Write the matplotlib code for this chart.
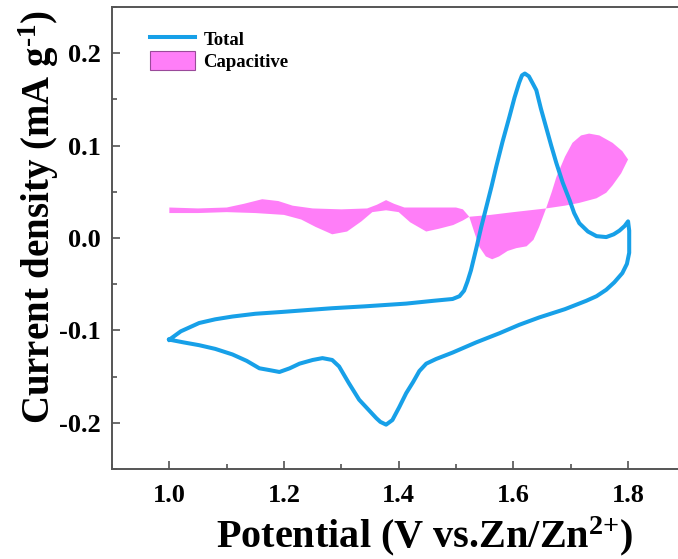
import numpy as np
import matplotlib
matplotlib.use("Agg")
import matplotlib.pyplot as plt
from matplotlib.patches import Patch
from matplotlib.ticker import MultipleLocator, FormatStrFormatter

# Total CV loop (anodic sweep then cathodic sweep)
total_v = [1.000, 1.020, 1.052, 1.080, 1.110, 1.150, 1.197, 1.240, 1.284, 1.340,
           1.413, 1.460, 1.494, 1.506, 1.514, 1.520, 1.526, 1.535, 1.544, 1.553,
           1.562, 1.570, 1.581, 1.593, 1.602, 1.610, 1.615, 1.620, 1.627, 1.634,
           1.640, 1.648, 1.657, 1.666, 1.675, 1.686, 1.698, 1.706, 1.715, 1.730,
           1.745, 1.762, 1.775, 1.785, 1.794, 1.800,
           1.802, 1.802, 1.798, 1.790, 1.776, 1.762, 1.745, 1.727, 1.690, 1.645,
           1.610, 1.576, 1.535, 1.494, 1.465, 1.448, 1.436, 1.425, 1.413, 1.401,
           1.389, 1.378, 1.368, 1.361, 1.346, 1.331, 1.313, 1.296, 1.284, 1.267,
           1.250, 1.227, 1.210, 1.192, 1.175, 1.157, 1.135, 1.110, 1.080, 1.052,
           1.025, 1.000]
total_i = [-0.110, -0.101, -0.092, -0.088, -0.085, -0.082, -0.080, -0.078, -0.076, -0.074,
           -0.071, -0.068, -0.066, -0.063, -0.057, -0.047, -0.035, -0.012, 0.012, 0.034,
           0.056, 0.077, 0.104, 0.131, 0.152, 0.168, 0.176, 0.178, 0.175, 0.167,
           0.160, 0.140, 0.120, 0.100, 0.081, 0.060, 0.041, 0.027, 0.016, 0.007,
           0.002, 0.001, 0.004, 0.008, 0.013, 0.018,
           0.008, -0.016, -0.028, -0.038, -0.048, -0.056, -0.063, -0.068, -0.077, -0.086,
           -0.094, -0.103, -0.113, -0.124, -0.131, -0.136, -0.144, -0.156, -0.168, -0.183,
           -0.197, -0.202, -0.199, -0.195, -0.185, -0.175, -0.157, -0.139, -0.132, -0.130,
           -0.132, -0.136, -0.141, -0.145, -0.143, -0.141, -0.133, -0.126, -0.120, -0.116,
           -0.113, -0.110]

# capacitive contribution, two boundaries of the shaded band
cap_a_v = [1.000, 1.050, 1.100, 1.130, 1.162, 1.190, 1.215, 1.250, 1.300, 1.345,
           1.362, 1.378, 1.392, 1.410, 1.460, 1.500, 1.512, 1.523, 1.532, 1.541,
           1.552, 1.563, 1.575, 1.590, 1.605, 1.623, 1.635, 1.645, 1.657, 1.667,
           1.675, 1.690, 1.703, 1.718, 1.732, 1.750, 1.773, 1.790, 1.800]
cap_a_i = [0.033, 0.032, 0.033, 0.037, 0.042, 0.040, 0.035, 0.032, 0.031, 0.032,
           0.036, 0.041, 0.037, 0.033, 0.033, 0.033, 0.031, 0.023, 0.006, -0.010,
           -0.020, -0.023, -0.020, -0.014, -0.011, -0.009, -0.002, 0.012, 0.032, 0.050,
           0.066, 0.088, 0.103, 0.111, 0.113, 0.111, 0.103, 0.094, 0.085]
cap_b_v = [1.000, 1.050, 1.100, 1.150, 1.200, 1.230, 1.255, 1.284, 1.310, 1.335,
           1.354, 1.378, 1.400, 1.420, 1.448, 1.470, 1.495, 1.512, 1.523, 1.560,
           1.600, 1.657, 1.690, 1.715, 1.745, 1.762, 1.773, 1.788, 1.800]
cap_b_i = [0.027, 0.027, 0.028, 0.027, 0.025, 0.020, 0.012, 0.004, 0.007, 0.018,
           0.028, 0.030, 0.028, 0.017, 0.007, 0.010, 0.014, 0.019, 0.023, 0.025,
           0.028, 0.032, 0.035, 0.038, 0.043, 0.049, 0.057, 0.070, 0.085]

blue = "#17A0E8"
pink = "#FF7EF8"

plt.rcParams["font.family"] = ["Liberation Serif", "DejaVu Serif"]
plt.rcParams["font.weight"] = "bold"
plt.rcParams["mathtext.fontset"] = "custom"
plt.rcParams["mathtext.rm"] = "Liberation Serif:bold"
plt.rcParams["mathtext.it"] = "Liberation Serif:bold"
plt.rcParams["mathtext.bf"] = "Liberation Serif:bold"
plt.rcParams["axes.unicode_minus"] = False

fig = plt.figure(figsize=(6.78, 5.59), dpi=100)
ax = fig.add_axes([112 / 678, 1 - 469 / 559, 573.4 / 678, 462 / 559])

poly_v = np.concatenate([cap_a_v, cap_b_v[::-1]])
poly_i = np.concatenate([cap_a_i, cap_b_i[::-1]])
ax.fill(poly_v, poly_i, facecolor=pink, edgecolor="none", zorder=1)
ax.plot(total_v, total_i, color=blue, lw=2.9, solid_joinstyle="round", zorder=2)

ax.set_xlim(0.9, 1.9)
ax.set_ylim(-0.25, 0.25)
ax.xaxis.set_major_locator(MultipleLocator(0.2))
ax.xaxis.set_minor_locator(MultipleLocator(0.1))
ax.yaxis.set_major_locator(MultipleLocator(0.1))
ax.yaxis.set_minor_locator(MultipleLocator(0.05))
ax.xaxis.set_major_formatter(FormatStrFormatter("%.1f"))
ax.yaxis.set_major_formatter(FormatStrFormatter("%.1f"))

ax.tick_params(which="both", direction="in", top=False, right=False, color="#444444")
ax.tick_params(which="major", length=6, width=1.1, labelsize=19)
ax.tick_params(which="minor", length=3.5, width=1.1)
ax.tick_params(axis="x", which="major", pad=11)
ax.tick_params(axis="y", which="major", pad=8)
for lab in ax.get_xticklabels() + ax.get_yticklabels():
    lab.set_fontweight("bold")

for s in ax.spines.values():
    s.set_color("#555555")
    s.set_linewidth(1.4)

ax.set_xlabel(r"Potential (V vs.Zn/Zn$^{2\text{+}}$)", fontsize=29, fontweight="bold",
              labelpad=5)
ax.set_ylabel(r"Current density (mA g$^{\text{-}1}$)", fontsize=28, fontweight="bold",
              labelpad=-1)
ax.xaxis.label.set_x(0.546)
ax.yaxis.label.set_y(0.545)

handles = [plt.Line2D([], [], color=blue, lw=2.9),
           Patch(facecolor=pink, edgecolor="#9A4A9A", linewidth=0.8)]
ax.legend(handles, ["Total", "Capacitive"], loc="upper left",
          bbox_to_anchor=(0.066, 0.952), frameon=False,
          handlelength=2.4, handleheight=1.2, handletextpad=0.45,
          labelspacing=0.1, borderpad=0, borderaxespad=0,
          prop={"weight": "bold", "size": 13.5})

fig.savefig("out.png", dpi=100)
